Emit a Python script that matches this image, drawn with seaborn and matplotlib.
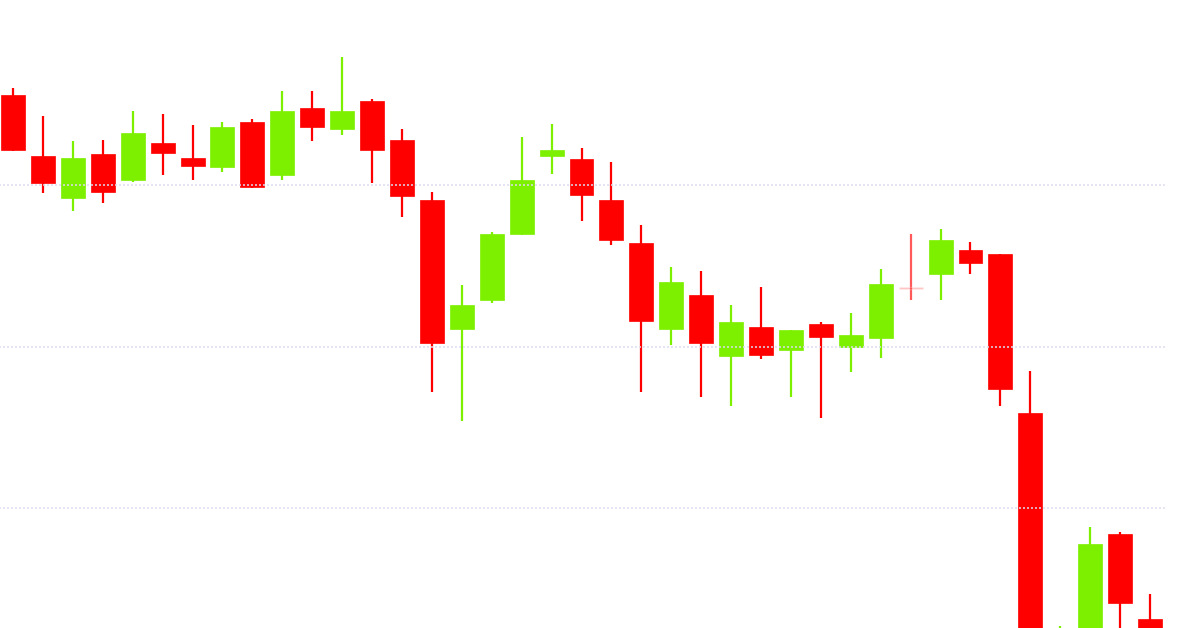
import matplotlib
matplotlib.use("Agg")
import matplotlib.pyplot as plt
import seaborn as sns
import numpy as np
import pandas as pd

# hourly candles (price units, bottom part is cut off by the frame)
opens = [9256, 9218, 9192, 9219, 9203, 9226, 9217, 9211, 9239, 9206,
         9248, 9235, 9252, 9228, 9191, 9111, 9129, 9170, 9218, 9216,
         9191, 9164, 9111, 9132, 9094, 9112, 9098, 9114, 9100, 9105,
         9136.5, 9145, 9160, 9157, 9059, 8880, 8900, 8984, 8931]
highs = [9260, 9243, 9227, 9228, 9246, 9244, 9237, 9239, 9241, 9258,
         9258, 9279, 9253, 9235, 9196, 9138, 9171, 9230, 9238, 9223,
         9214, 9175, 9149, 9147, 9126, 9137, 9110, 9115, 9121, 9148,
         9170, 9173, 9165, 9157, 9085, 8927, 8988, 8985, 8947]
lows = [9221, 9195, 9184, 9189, 9202, 9206, 9203, 9208, 9198, 9203,
        9227, 9231, 9201, 9180, 9072, 9054, 9127, 9169, 9207, 9178,
        9163, 9072, 9101, 9069, 9063, 9092, 9069, 9056, 9084, 9093,
        9129, 9129, 9145, 9063, 8890, 8870, 8890, 8915, 8900]
closes = [9222, 9201, 9217, 9196, 9232, 9220, 9212, 9236, 9199, 9246,
          9236, 9246, 9222, 9193, 9102, 9126, 9170, 9203, 9222, 9194,
          9166, 9116, 9140, 9102, 9115, 9095, 9110, 9106, 9107, 9139,
          9136, 9166, 9152, 9074, 8900, 8910, 8978, 8941, 8910]
grid_levels = [9000, 9100, 9200]

df = pd.DataFrame({"open": opens, "high": highs, "low": lows, "close": closes})
df["up"] = df["close"] >= df["open"]
df["doji"] = (df["close"] - df["open"]).abs() < 1

sns.set_style("white")

green = "#7df000"
red = "#ff0000"

fig = plt.figure(figsize=(12, 6.28), dpi=100)
ax = fig.add_axes([0, 0, 1, 1])

x = np.arange(len(df))
colors = [green if u else red for u in df["up"]]

# wicks (doji drawn fainter)
for xi, lo, hi, c, dj in zip(x, df["low"], df["high"], colors, df["doji"]):
    ax.vlines(xi, lo, hi, colors=c, linewidth=1.6, alpha=0.65 if dj else 1.0, zorder=1)

# bodies
bottoms = np.minimum(df["open"], df["close"])
heights = np.abs(df["close"] - df["open"])
for xi, b, h, c, dj in zip(x, bottoms, heights, colors, df["doji"]):
    if dj:
        ax.bar(xi, 1.2, width=0.8, bottom=b - 0.6, color=c, alpha=0.25, zorder=2)
    else:
        ax.bar(xi, h, width=0.8, bottom=b, color=c, edgecolor=c, linewidth=0.5, zorder=2)

# dotted price grid drawn on top, as in the original
ax.hlines(grid_levels, -0.5, 38.5, colors="#dcdcf0", linewidth=1.2,
          linestyles=(0, (1.2, 1.2)), zorder=3, alpha=0.9)

ax.set_xlim(-0.4345, 39.67)
ax.set_ylim(8925.7, 9314.6)
ax.axis("off")

fig.savefig("out.png", dpi=100, facecolor="white")
